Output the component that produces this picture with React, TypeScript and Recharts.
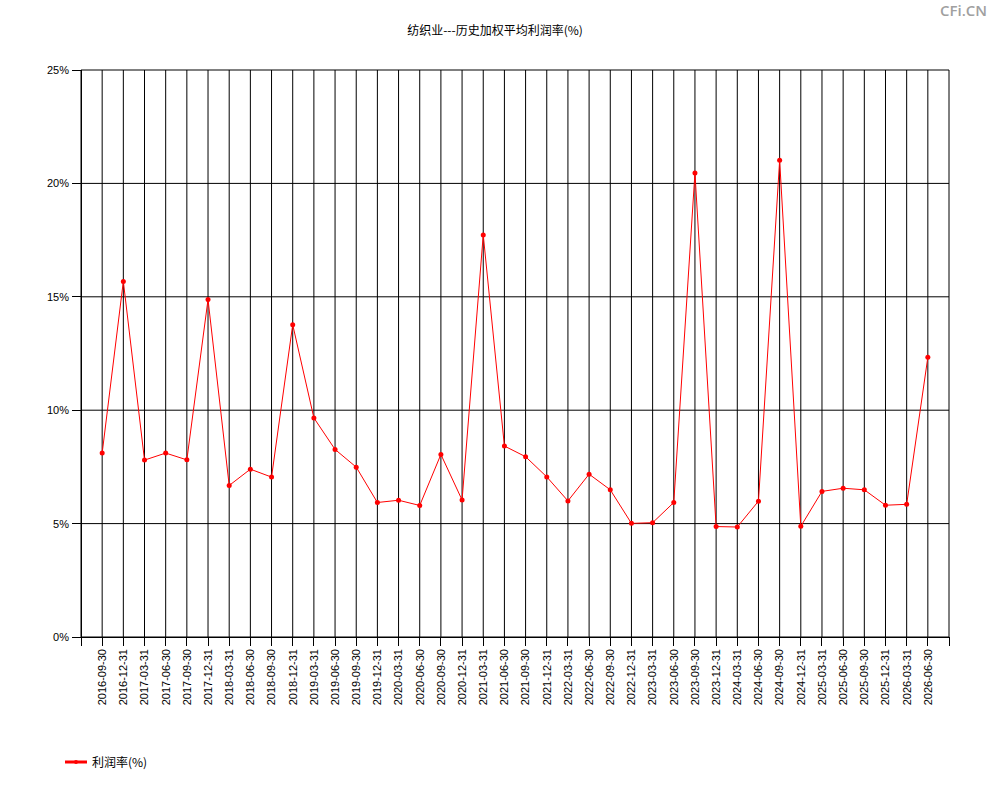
import { LineChart, Line, XAxis, YAxis, CartesianGrid } from 'recharts'

const DATES = [
  '2016-09-30', '2016-12-31', '2017-03-31', '2017-06-30', '2017-09-30',
  '2017-12-31', '2018-03-31', '2018-06-30', '2018-09-30', '2018-12-31',
  '2019-03-31', '2019-06-30', '2019-09-30', '2019-12-31', '2020-03-31',
  '2020-06-30', '2020-09-30', '2020-12-31', '2021-03-31', '2021-06-30',
  '2021-09-30', '2021-12-31', '2022-03-31', '2022-06-30', '2022-09-30',
  '2022-12-31', '2023-03-31', '2023-06-30', '2023-09-30', '2023-12-31',
  '2024-03-31', '2024-06-30', '2024-09-30', '2024-12-31', '2025-03-31',
  '2025-06-30', '2025-09-30', '2025-12-31', '2026-03-31', '2026-06-30',
]

const PROFIT_RATE = [
  8.11, 15.68, 7.8, 8.11, 7.81, 14.88, 6.68, 7.4, 7.05, 13.77,
  9.66, 8.27, 7.49, 5.93, 6.03, 5.8, 8.05, 6.04, 17.73, 8.42,
  7.95, 7.06, 6.0, 7.18, 6.49, 5.01, 5.04, 5.93, 20.46, 4.87,
  4.85, 5.99, 21.02, 4.88, 6.42, 6.56, 6.49, 5.81, 5.85, 12.33,
]

const Y_TICKS = [0, 5, 10, 15, 20, 25]

const TITLE = '纺织业---历史加权平均利润率(%)'
const SERIES_NAME = '利润率(%)'

// x positions 1..n, with an empty slot at each end
const X_TICKS = Array.from({ length: DATES.length + 2 }, (_, i) => i)

const chartData = DATES.map((date, i) => ({
  idx: i + 1,
  date,
  rate: PROFIT_RATE[i],
}))

const FONT = '"Liberation Sans", Arial, sans-serif'
const CJK = '"Noto Sans CJK SC", sans-serif'

function DateTick({ x, y, payload }: any) {
  const label = DATES[payload.value - 1]
  if (!label) return null
  return (
    <g transform={`translate(${x},${y})`}>
      <text
        transform="rotate(-90)"
        x={-1}
        dy="0.35em"
        textAnchor="end"
        fill="#000"
        fontSize={11}
        fontFamily={FONT}
      >
        {label}
      </text>
    </g>
  )
}

export default function App() {
  return (
    <div style={{ position: 'absolute', top: 0, left: 0, width: 990, height: 800, background: '#fff' }}>
      <style>{`.crisp line, .crisp path { shape-rendering: crispEdges; }`}</style>
      <div
        style={{
          position: 'absolute',
          top: 21,
          left: 0,
          width: 990,
          textAlign: 'center',
          fontFamily: CJK,
          fontSize: 12,
          color: '#000',
        }}
      >
        {TITLE}
      </div>
      <div
        style={{
          position: 'absolute',
          top: 0,
          right: 3,
          fontFamily: '"Open Sans", sans-serif',
          fontSize: 15,
          fontWeight: 600,
          color: '#a0a0a0',
        }}
      >
        CFi.CN
      </div>

      <LineChart
        width={990}
        height={800}
        data={chartData}
        margin={{ top: 70, right: 41, left: 21, bottom: 83 }}
      >
        <CartesianGrid className="crisp" stroke="#000" strokeWidth={1} horizontal vertical />
        <XAxis
          className="crisp"
          dataKey="idx"
          type="number"
          domain={[0, DATES.length + 1]}
          ticks={X_TICKS}
          interval={0}
          height={80}
          tickSize={9}
          tickMargin={2}
          axisLine={{ stroke: '#000' }}
          tickLine={{ stroke: '#000' }}
          tick={<DateTick />}
        />
        <YAxis
          className="crisp"
          type="number"
          domain={[0, 25]}
          ticks={Y_TICKS}
          width={60}
          tickSize={9}
          tickMargin={3}
          axisLine={{ stroke: '#000' }}
          tickLine={{ stroke: '#000' }}
          tick={{ fill: '#000', fontSize: 11, fontFamily: FONT }}
          tickFormatter={(v: number) => `${v}%`}
        />
        <Line
          type="linear"
          dataKey="rate"
          stroke="#ff0000"
          strokeWidth={1}
          dot={{ r: 2.5, fill: '#ff0000', stroke: '#ff0000', strokeWidth: 0 }}
          isAnimationActive={false}
        />
      </LineChart>

      <div
        style={{
          position: 'absolute',
          top: 753,
          left: 65,
          display: 'flex',
          alignItems: 'center',
          fontFamily: CJK,
          fontSize: 12,
          color: '#000',
        }}
      >
        <svg width={22} height={8} style={{ marginRight: 5 }}>
          <line x1={0} y1={4} x2={22} y2={4} stroke="#ff0000" strokeWidth={3} />
          <circle cx={11} cy={4} r={2} fill="#ff0000" />
        </svg>
        <span>{SERIES_NAME}</span>
      </div>
    </div>
  )
}
